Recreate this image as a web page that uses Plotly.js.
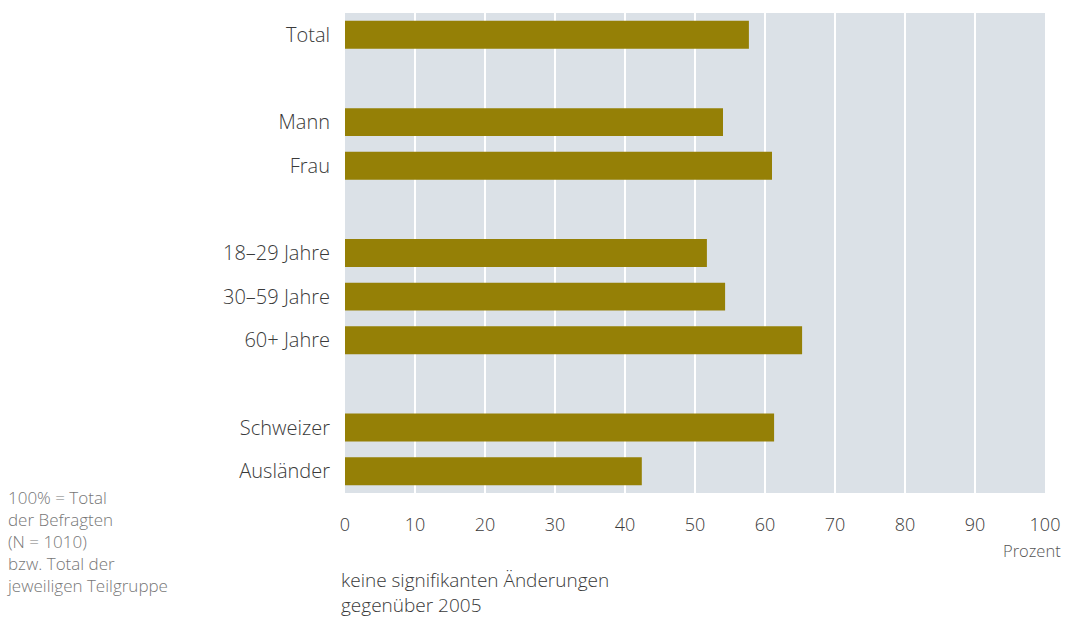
<!DOCTYPE html>
<html>
<head>
<meta charset="utf-8">
<script src="https://cdn.plot.ly/plotly-3.0.1.min.js"></script>
<style>html,body{margin:0;padding:0;background:#fff;}#chart{width:1067px;height:621px;}</style>
</head>
<body>
<div id="chart"></div>
<script>
// Row order, with blank spacer rows between the groups
const categories = ["Total", " ", "Mann", "Frau", "  ", "18–29 Jahre", "30–59 Jahre", "60+ Jahre", "   ", "Schweizer", "Ausländer"];
const barLabels = ["Total", "Mann", "Frau", "18–29 Jahre", "30–59 Jahre", "60+ Jahre", "Schweizer", "Ausländer"];
const values = [57.7, 54.0, 61.0, 51.7, 54.3, 65.3, 61.3, 42.4];
const xTicks = [0, 10, 20, 30, 40, 50, 60, 70, 80, 90, 100];
const unitLabel = "Prozent";
const footnote = ["100% = Total", "der Befragten", "(N = 1010)", "bzw. Total der", "jeweiligen Teilgruppe"];
const bottomNote = ["keine signifikanten Änderungen", "gegenüber 2005"];

const FONT = "Open Sans, Noto Sans, sans-serif";

const trace = {
  type: "bar",
  orientation: "h",
  y: barLabels,
  x: values,
  marker: {color: "#958006"},
  width: 0.64,
  hoverinfo: "x+y"
};

const layout = {
  width: 1067, height: 621,
  margin: {l: 345, r: 22, t: 13, b: 128},
  paper_bgcolor: "#ffffff",
  plot_bgcolor: "#dbe1e7",
  showlegend: false,
  font: {family: FONT, color: "#3a3a3a", size: 18, weight: 300},
  xaxis: {
    range: [0, 100],
    tickvals: xTicks,
    ticktext: xTicks.map(String),
    showgrid: true,
    gridcolor: "#ffffff",
    gridwidth: 2,
    zeroline: false,
    showline: false,
    ticks: "outside",
    ticklen: 15,
    tickcolor: "rgba(0,0,0,0)",
    tickfont: {size: 18, color: "#3a3a3a", family: FONT, weight: 300},
    fixedrange: true
  },
  yaxis: {
    type: "category",
    categoryorder: "array",
    categoryarray: categories,
    range: [10.5, -0.5],
    showgrid: false,
    zeroline: false,
    showline: false,
    ticks: "outside",
    ticklen: 10,
    tickcolor: "rgba(0,0,0,0)",
    tickfont: {size: 20, color: "#3a3a3a", family: FONT, weight: 300},
    fixedrange: true
  },
  annotations: [
    {
      xref: "paper", yref: "paper",
      x: 1.0257, y: -0.092, xanchor: "right", yanchor: "top",
      text: unitLabel, showarrow: false,
      font: {size: 16.5, color: "#555555", family: FONT, weight: 300}
    },
    {
      xref: "paper", yref: "paper",
      x: -0.486, y: 0.018, xanchor: "left", yanchor: "top", align: "left",
      text: footnote.join("<br>"), showarrow: false,
      font: {size: 17, color: "#777777", family: FONT, weight: 300}
    },
    {
      xref: "paper", yref: "paper",
      x: -0.008, y: -0.15, xanchor: "left", yanchor: "top", align: "left",
      text: bottomNote.join("<br>"), showarrow: false,
      font: {size: 19, color: "#3a3a3a", family: FONT, weight: 300}
    }
  ]
};

Plotly.newPlot("chart", [trace], layout, {displayModeBar: false, staticPlot: true});
</script>
</body>
</html>
